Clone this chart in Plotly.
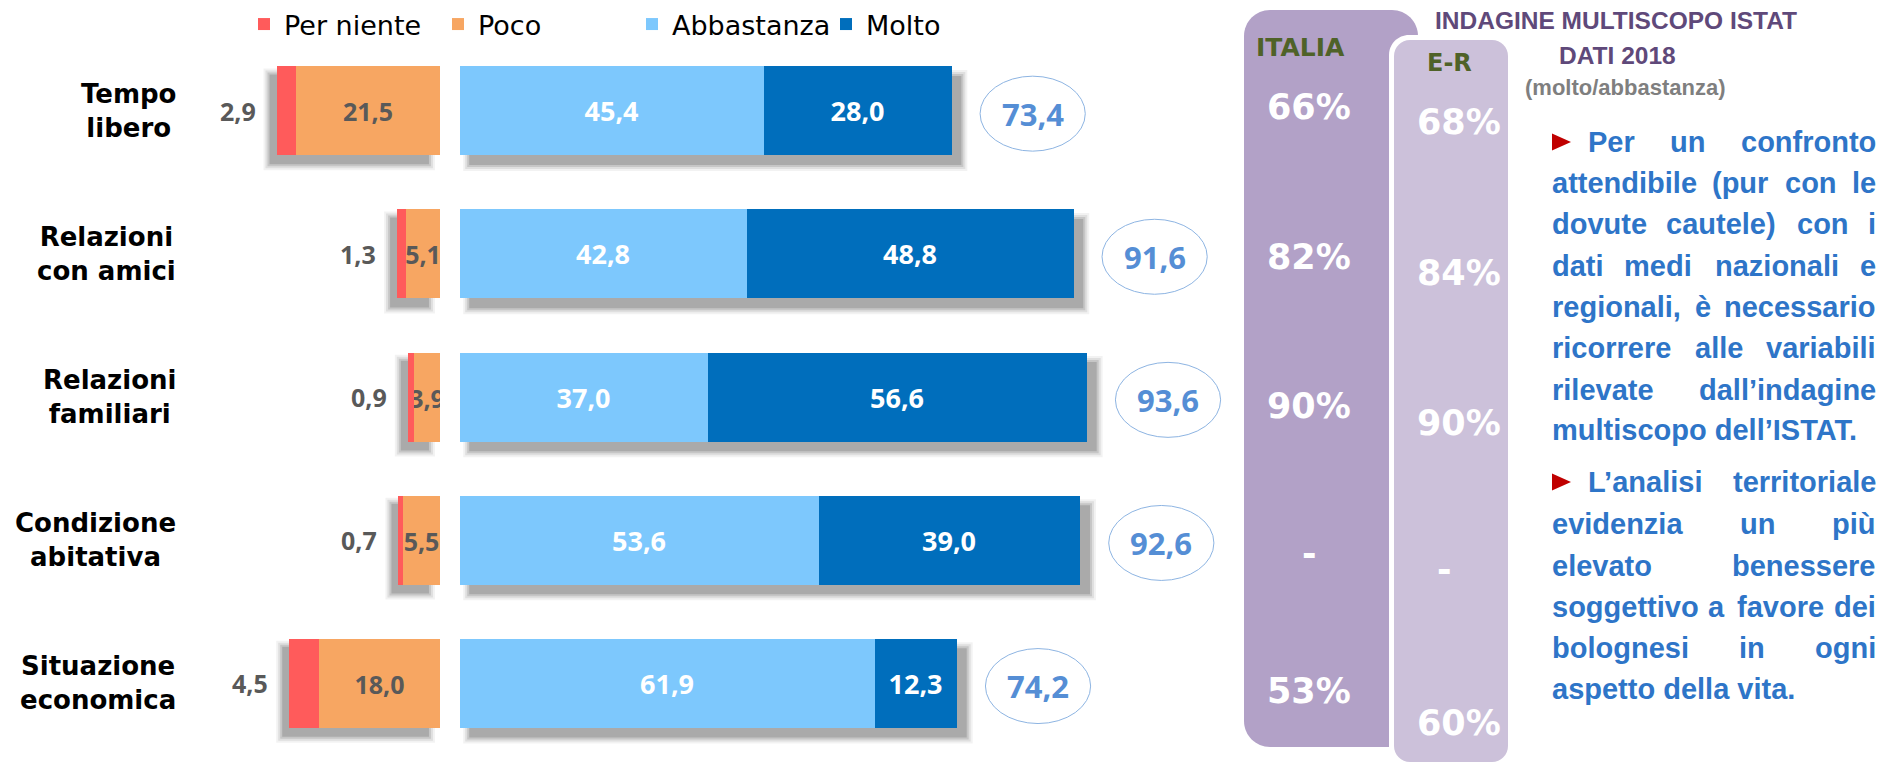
import plotly.graph_objects as go

# ---------------- data ----------------
categories = ["Tempo<br>libero", "Relazioni<br>con amici", "Relazioni<br>familiari",
              "Condizione<br>abitativa", "Situazione<br>economica"]
series_names = ["Per niente", "Poco", "Abbastanza", "Molto"]
per_niente = [2.9, 1.3, 0.9, 0.7, 4.5]
poco = [21.5, 5.1, 3.9, 5.5, 18.0]
abbastanza = [45.4, 42.8, 37.0, 53.6, 61.9]
molto = [28.0, 48.8, 56.6, 39.0, 12.3]
totale = [73.4, 91.6, 93.6, 92.6, 74.2]
italia = ["66%", "82%", "90%", "-", "53%"]
emilia_romagna = ["68%", "84%", "90%", "-", "60%"]
column_titles = ["ITALIA", "E-R"]
header_lines = ["INDAGINE MULTISCOPO ISTAT", "DATI 2018"]
header_note = "(molto/abbastanza)"
paragraph_1 = ["Per un confronto", "attendibile (pur con le", "dovute cautele) con i",
               "dati medi nazionali e", "regionali, è necessario", "ricorrere alle variabili",
               "rilevate dall’indagine", "multiscopo dell’ISTAT."]
paragraph_2 = ["L’analisi territoriale", "evidenzia un più", "elevato benessere",
               "soggettivo a favore dei", "bolognesi in ogni", "aspetto della vita."]

# ---------------- style / layout constants ----------------
W, H = 1898, 762
RED, ORANGE, LBLUE, DBLUE = "#FF5B5B", "#F7A662", "#7DC8FD", "#006EBC"
GREY_TXT = "#595959"
S = 6.7                      # px per percentage unit
ZERO_L, ZERO_R = 440.0, 459.5
L_RANGE, R_RANGE = 40, 120
Y0, STEP = 110.8, 143.1      # px centre of first bar, px between bars
BW = 0.622
NUM_FONT = "Open Sans"
ypos = list(range(len(categories)))


def fx(x):
    return x / W


def fy(y):
    return 1 - y / H


def fmt(v):
    return f"{v:.1f}".replace(".", ",")


fig = go.Figure()

bar_common = dict(orientation="h", width=BW, hoverinfo="skip",
                  textposition="inside", insidetextanchor="middle", textangle=0,
                  constraintext="none", marker_line_width=0)

fig.add_trace(go.Bar(name=series_names[1], y=ypos, x=poco, xaxis="x", yaxis="y",
                     marker_color=ORANGE, legendrank=2,
                     text=[fmt(v) for v in poco],
                     textfont=dict(family=NUM_FONT, size=25, color=GREY_TXT, weight="bold"),
                     **bar_common))
fig.add_trace(go.Bar(name=series_names[0], y=ypos, x=per_niente, xaxis="x", yaxis="y",
                     marker_color=RED, legendrank=1, **bar_common))
fig.add_trace(go.Bar(name=series_names[2], y=ypos, x=abbastanza, xaxis="x2", yaxis="y",
                     marker_color=LBLUE, legendrank=3,
                     text=[fmt(v) for v in abbastanza],
                     textfont=dict(family=NUM_FONT, size=27, color="white", weight="bold"),
                     **bar_common))
fig.add_trace(go.Bar(name=series_names[3], y=ypos, x=molto, xaxis="x2", yaxis="y",
                     marker_color=DBLUE, legendrank=4,
                     text=[fmt(v) for v in molto],
                     textfont=dict(family=NUM_FONT, size=27, color="white", weight="bold"),
                     **bar_common))

shapes = []
annotations = []

# shadows (soft, below bars)
for i in ypos:
    left_end = per_niente[i] + poco[i]
    right_end = abbastanza[i] + molto[i]
    for g, a in [(5, 0.05), (3, 0.08), (1, 0.11), (-1, 0.14)]:
        gx, gy = g / S, g / STEP
        shapes.append(dict(type="rect", xref="x", yref="y", layer="below",
                           x0=left_end + 1.2 + gx, x1=1.5 - gx,
                           y0=i - BW / 2 + 0.05 - gy, y1=i + BW / 2 + 0.07 + gy,
                           fillcolor=f"rgba(0,0,0,{a})", line_width=0))
        shapes.append(dict(type="rect", xref="x2", yref="y", layer="below",
                           x0=1.3 - gx, x1=right_end + 1.65 + gx,
                           y0=i - BW / 2 + 0.06 - gy, y1=i + BW / 2 + 0.075 + gy,
                           fillcolor=f"rgba(0,0,0,{a})", line_width=0))

# outside "per niente" labels
for i in ypos:
    annotations.append(dict(xref="x", yref="y", x=per_niente[i] + poco[i], y=i,
                            text=fmt(per_niente[i]), showarrow=False,
                            xanchor="right", yanchor="middle", xshift=-19,
                            font=dict(family=NUM_FONT, size=25, color=GREY_TXT, weight="bold")))

# totals in ellipses
for i in ypos:
    t = totale[i]
    shapes.append(dict(type="circle", xref="x2", yref="y",
                       x0=t + 4.3, x1=t + 20.0, y0=i + 0.02 - 0.262, y1=i + 0.02 + 0.262,
                       line=dict(color="#8DB4E2", width=1), fillcolor="rgba(0,0,0,0)"))
    annotations.append(dict(xref="x2", yref="y", x=t + 12.15, y=i + 0.02, text=fmt(t),
                            showarrow=False, xanchor="center", yanchor="middle",
                            font=dict(family=NUM_FONT, size=31, color="#558ED5", weight="bold")))

# category labels
for i in ypos:
    annotations.append(dict(xref="paper", yref="y", x=fx(178), y=i, text=categories[i],
                            showarrow=False, xanchor="right", yanchor="middle", align="center",
                            font=dict(family="DejaVu Sans", size=26, color="black", weight="bold")))


# ---------------- right panel ----------------
def rrect(x0, y0, x1, y1, r_tl, r_tr, r_br, r_bl):
    k = 0.5523

    def P(x, y):
        return f"{fx(x):.5f},{fy(y):.5f}"
    d = f"M{P(x0 + r_tl, y0)} L{P(x1 - r_tr, y0)}"
    if r_tr:
        d += f" C{P(x1 - r_tr + k * r_tr, y0)} {P(x1, y0 + r_tr - k * r_tr)} {P(x1, y0 + r_tr)}"
    d += f" L{P(x1, y1 - r_br)}"
    if r_br:
        d += f" C{P(x1, y1 - r_br + k * r_br)} {P(x1 - r_br + k * r_br, y1)} {P(x1 - r_br, y1)}"
    d += f" L{P(x0 + r_bl, y1)}"
    if r_bl:
        d += f" C{P(x0 + r_bl - k * r_bl, y1)} {P(x0, y1 - r_bl + k * r_bl)} {P(x0, y1 - r_bl)}"
    d += f" L{P(x0, y0 + r_tl)}"
    if r_tl:
        d += f" C{P(x0, y0 + r_tl - k * r_tl)} {P(x0 + r_tl - k * r_tl, y0)} {P(x0 + r_tl, y0)}"
    return d + " Z"


shapes.append(dict(type="path", xref="paper", yref="paper",
                   path=rrect(1244, 10, 1418, 747, 26, 26, 0, 26),
                   fillcolor="#B2A1C7", line_width=0))
shapes.append(dict(type="path", xref="paper", yref="paper",
                   path=rrect(1389, 35, 1513, 767, 20, 20, 20, 20),
                   fillcolor="white", line_width=0))
shapes.append(dict(type="path", xref="paper", yref="paper",
                   path=rrect(1394, 40, 1508, 762, 16, 16, 16, 16),
                   fillcolor="#CCC1DA", line_width=0))

annotations.append(dict(xref="paper", yref="paper", x=fx(1300), y=fy(47.5), text=column_titles[0],
                        showarrow=False, xanchor="center", yanchor="middle",
                        font=dict(family="DejaVu Sans", size=25, color="#4F6228", weight="bold")))
annotations.append(dict(xref="paper", yref="paper", x=fx(1449), y=fy(63), text=column_titles[1],
                        showarrow=False, xanchor="center", yanchor="middle",
                        font=dict(family="DejaVu Sans", size=24, color="#4F6228", weight="bold")))

ital_off = [-0.03, 0.025, 0.065, 0.10, 0.055]
er_off = [0.08, 0.13, 0.18, 0.21, 0.28]
for i in ypos:
    annotations.append(dict(xref="paper", yref="y", x=fx(1309), y=i + ital_off[i], text=italia[i],
                            showarrow=False, xanchor="center", yanchor="middle",
                            font=dict(family="DejaVu Sans", size=35, color="white", weight="bold")))
    annotations.append(dict(xref="paper", yref="y",
                            x=fx(1459 if emilia_romagna[i] != "-" else 1444),
                            y=i + er_off[i], text=emilia_romagna[i],
                            showarrow=False, xanchor="center", yanchor="middle",
                            font=dict(family="DejaVu Sans", size=35, color="white", weight="bold")))

HDR = "#5F497A"
annotations.append(dict(xref="paper", yref="paper", x=fx(1616), y=fy(21), text=header_lines[0],
                        showarrow=False, xanchor="center", yanchor="middle",
                        font=dict(family="Liberation Sans", size=24.5, color=HDR, weight="bold")))
annotations.append(dict(xref="paper", yref="paper", x=fx(1617), y=fy(56), text=header_lines[1],
                        showarrow=False, xanchor="center", yanchor="middle",
                        font=dict(family="Liberation Sans", size=24.5, color=HDR, weight="bold")))
annotations.append(dict(xref="paper", yref="paper", x=fx(1625), y=fy(88), text=header_note,
                        showarrow=False, xanchor="center", yanchor="middle",
                        font=dict(family="Liberation Sans", size=22, color="#7F7F7F", weight="bold")))

# justified paragraph (Liberation Sans Bold = Arial Bold metrics)
AW = {}
for chars, w in [(" ijlI.,’'/", 278), ("ftr()-", 333),
                 ("acekesvxyèà0123456789", 556), ("bdghnopquù", 611), ("m", 889), ("w", 778),
                 ("z", 500), ("ABCDHKNRU", 722), ("EPSVXY", 667), ("FLTZ", 611), ("GOQ", 778),
                 ("M", 833), ("J", 556), ("W", 944)]:
    for c in chars:
        AW[c] = w
AW["r"] = 389
PSIZE = 29
PCOL = "#2E75C8"
PFONT = dict(family="Liberation Sans", size=PSIZE, color=PCOL, weight="bold")


def tw(s):
    return sum(AW.get(c, 556) for c in s) / 1000 * PSIZE


def add_paragraph(lines, ys):
    R = 1878
    for j, (line, y) in enumerate(zip(lines, ys)):
        L = 1586 if j == 0 else 1550
        if j == 0:
            shapes.append(dict(type="path", xref="paper", yref="paper",
                               path=f"M{fx(1552):.5f},{fy(y - 8.5):.5f} L{fx(1571):.5f},{fy(y):.5f} "
                                    f"L{fx(1552):.5f},{fy(y + 8.5):.5f} Z",
                               fillcolor="#C00000", line_width=0))
        if j == len(lines) - 1:
            annotations.append(dict(xref="paper", yref="paper", x=fx(L), y=fy(y), text=line,
                                    showarrow=False, xanchor="left", yanchor="middle", font=PFONT))
            continue
        words = line.split(" ")
        widths = [tw(w) for w in words]
        gap = (R - L - sum(widths)) / (len(words) - 1)
        cur = L
        for k, (wd, wv) in enumerate(zip(words, widths)):
            if k == 0:
                x, anc = L, "left"
            elif k == len(words) - 1:
                x, anc = R, "right"
            else:
                x, anc = cur + wv / 2, "center"
            annotations.append(dict(xref="paper", yref="paper", x=fx(x), y=fy(y), text=wd,
                                    showarrow=False, xanchor=anc, yanchor="middle", font=PFONT))
            cur += wv + gap


add_paragraph(paragraph_1, [142, 183, 224, 266, 307, 348, 390, 430])
add_paragraph(paragraph_2, [482, 524, 566, 607, 648, 689])

fig.update_layout(
    width=W, height=H, margin=dict(l=0, r=0, t=0, b=0, pad=0),
    paper_bgcolor="white", plot_bgcolor="white",
    barmode="stack", bargap=0,
    xaxis=dict(domain=[fx(ZERO_L - L_RANGE * S), fx(ZERO_L)], range=[L_RANGE, 0],
               visible=False, fixedrange=True),
    xaxis2=dict(domain=[fx(ZERO_R), fx(ZERO_R + R_RANGE * S)], range=[0, R_RANGE],
                anchor="y", visible=False, fixedrange=True),
    yaxis=dict(domain=[0, 1], range=[(H - Y0) / STEP, -Y0 / STEP], visible=False,
               fixedrange=True),
    showlegend=True,
    legend=dict(orientation="h", x=fx(244), xanchor="left", y=1, yanchor="top",
                font=dict(family="DejaVu Sans", size=27, color="black"),
                bgcolor="rgba(0,0,0,0)", traceorder="normal",
                entrywidth=149, entrywidthmode="pixels"),
    shapes=shapes, annotations=annotations,
)

fig.write_html("out.html",
               config={"displayModeBar": False},
               post_script="document.body.style.margin='0';"
                           "document.documentElement.style.overflow='hidden';"
                           "document.body.style.overflow='hidden';")
